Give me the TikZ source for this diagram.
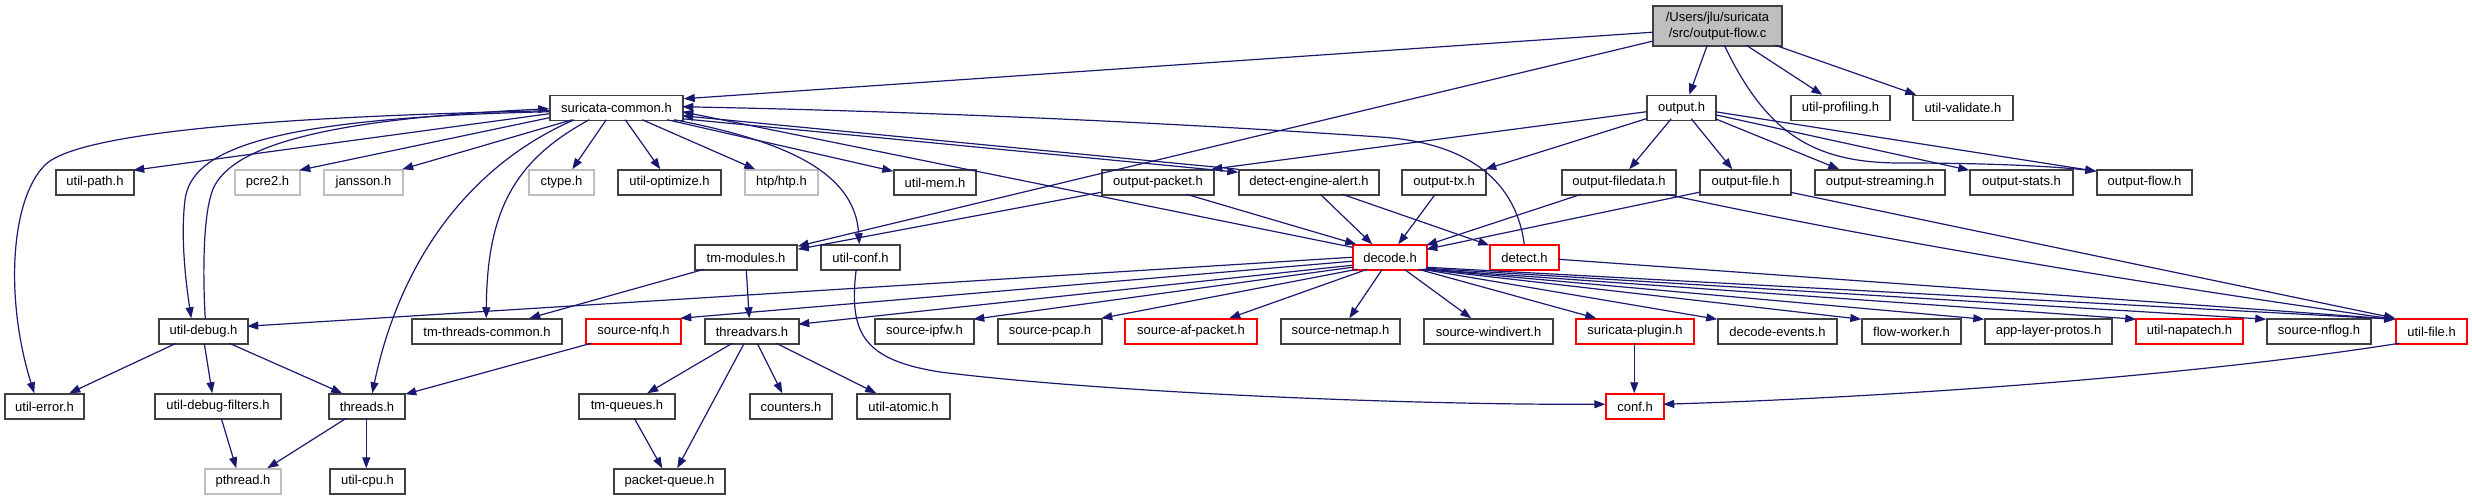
\documentclass[tikz,border=0pt]{standalone}
\usepackage{fontspec}
\setmainfont{Liberation Sans}
\usetikzlibrary{arrows.meta,calc}
\definecolor{edgec}{HTML}{191970}
\definecolor{bord}{HTML}{404040}
\definecolor{grayb}{HTML}{BFBFBF}
\newcommand\mkbox[6]{\node[#2, minimum width={(#4-#3)*1pt}] (#1) at ({(#3+#4)/2},#5) {#6};}
\begin{document}
\begin{tikzpicture}[x=1pt,y=-1pt,
  box/.style={rectangle, draw=bord, line width=1.5pt, inner sep=0pt, minimum height=25pt, fill=white, font=\fontsize{13}{15}\selectfont},
  gbox/.style={box, draw=grayb},
  rbox/.style={box, draw=red},
  rootbox/.style={box, fill=grayb, minimum height=40pt, align=center, font=\fontsize{13}{16}\selectfont},
  edge/.style={draw=edgec, line width=1.2pt, -{Triangle[length=11pt,width=8pt]}}]
\useasboundingbox (0,0) rectangle (2472,500);
% nodes
\mkbox{root}{rootbox}{1653}{1782}{26}{/Users/jlu/suricata\\/src/output-flow.c}
\mkbox{outh}{box}{1647}{1716}{108}{output.h}
\mkbox{prof}{box}{1791}{1890}{108}{util-profiling.h}
\mkbox{valid}{box}{1913}{2013}{108}{util-validate.h}
\mkbox{sc}{box}{550}{683}{108}{suricata-common.h}
% row C
\mkbox{utilpath}{box}{56}{134}{182.5}{util-path.h}
\mkbox{pcre}{gbox}{235}{300}{182.5}{pcre2.h}
\mkbox{jansson}{gbox}{324}{403}{182.5}{jansson.h}
\mkbox{ctype}{gbox}{529}{594}{182.5}{ctype.h}
\mkbox{optimize}{box}{618}{721}{182.5}{util-optimize.h}
\mkbox{htp}{gbox}{745}{818}{182.5}{htp/htp.h}
\mkbox{mem}{box}{894}{976}{182.5}{util-mem.h}
\mkbox{opacket}{box}{1102}{1214}{182.5}{output-packet.h}
\mkbox{dea}{box}{1239}{1379}{182.5}{detect-engine-alert.h}
\mkbox{otx}{box}{1402}{1486}{182.5}{output-tx.h}
\mkbox{ofiledata}{box}{1562}{1676}{182.5}{output-filedata.h}
\mkbox{ofile}{box}{1700}{1791}{182.5}{output-file.h}
\mkbox{ostream}{box}{1815}{1945}{182.5}{output-streaming.h}
\mkbox{ostats}{box}{1970}{2073}{182.5}{output-stats.h}
\mkbox{oflow}{box}{2097}{2192}{182.5}{output-flow.h}
% row D
\mkbox{tmmod}{box}{695}{797}{257.5}{tm-modules.h}
\mkbox{uconf}{box}{821}{900}{257.5}{util-conf.h}
\mkbox{decode}{rbox}{1353}{1427}{257.5}{decode.h}
\mkbox{detect}{rbox}{1490}{1559}{257.5}{detect.h}
% row E
\mkbox{udebug}{box}{159}{248}{331.5}{util-debug.h}
\mkbox{tmtc}{box}{412}{562}{331.5}{tm-threads-common.h}
\mkbox{nfq}{rbox}{586}{681}{331.5}{source-nfq.h}
\mkbox{tv}{box}{705}{799}{331.5}{threadvars.h}
\mkbox{ipfw}{box}{875}{974}{331.5}{source-ipfw.h}
\mkbox{pcap}{box}{998}{1102}{331.5}{source-pcap.h}
\mkbox{afp}{rbox}{1125}{1257}{331.5}{source-af-packet.h}
\mkbox{netmap}{box}{1281}{1400}{331.5}{source-netmap.h}
\mkbox{windivert}{box}{1424}{1553}{331.5}{source-windivert.h}
\mkbox{plugin}{rbox}{1576}{1694}{331.5}{suricata-plugin.h}
\mkbox{devents}{box}{1718}{1837}{331.5}{decode-events.h}
\mkbox{fw}{box}{1862}{1961}{331.5}{flow-worker.h}
\mkbox{alp}{box}{1985}{2112}{331.5}{app-layer-protos.h}
\mkbox{napatech}{rbox}{2136}{2243}{331.5}{util-napatech.h}
\mkbox{nflog}{box}{2267}{2371}{331.5}{source-nflog.h}
\mkbox{ufile}{rbox}{2396}{2467}{331.5}{util-file.h}
% row F
\mkbox{uerror}{box}{5}{84}{406.5}{util-error.h}
\mkbox{udf}{box}{155}{281}{406.5}{util-debug-filters.h}
\mkbox{threads}{box}{329}{405}{406.5}{threads.h}
\mkbox{tmq}{box}{579}{675}{406.5}{tm-queues.h}
\mkbox{counters}{box}{750}{832}{406.5}{counters.h}
\mkbox{atomic}{box}{857}{950}{406.5}{util-atomic.h}
\mkbox{conf}{rbox}{1606}{1664}{406.5}{conf.h}
% row G
\mkbox{pthread}{gbox}{205}{281}{481.5}{pthread.h}
\mkbox{cpu}{box}{330}{405}{481.5}{util-cpu.h}
\mkbox{pq}{box}{614}{725}{481.5}{packet-queue.h}
% waypoints
\coordinate (w1) at (1900,163);
\coordinate (c1) at (45,165);
\coordinate (c2) at (185,200);
\coordinate (c3) at (215,185);
\coordinate (c4) at (1380,137);
\coordinate (c5) at (940,372);
% root edges
\draw[edge] ($(root.north west)+(0,27)$) -- ($(sc.north east)+(0,4)$);
\draw[edge] ($(root.north west)+(0,36)$) -- ($(tmmod.north east)+(0,2)$);
\draw[edge] ($(root.north west)+(55,40)$) -- ($(outh.north west)+(43,0)$);
\draw[edge] ($(root.north west)+(94,40)$) -- ($(prof.north west)+(32,0)$);
\draw[edge] ($(root.north west)+(123,40)$) -- ($(valid.north west)+(4,0)$);
\draw[edge] ($(root.north west)+(72,40)$) .. controls (1765,130) and (1810,163) .. (w1) .. controls (2000,163) and (2060,167) .. ($(oflow.north west)+(0,2)$);
% output.h edges
\draw[edge] ($(outh.north west)+(0,17)$) -- ($(opacket.north west)+(110,0)$);
\draw[edge] ($(outh.north west)+(0,24)$) -- ($(otx.north west)+(84,0)$);
\draw[edge] ($(outh.north west)+(25,24)$) -- ($(ofiledata.north west)+(68,0)$);
\draw[edge] ($(outh.north west)+(45,24)$) -- ($(ofile.north west)+(33,0)$);
\draw[edge] ($(outh.north west)+(69,24)$) -- ($(ostream.north west)+(25,0)$);
\draw[edge] ($(outh.north west)+(69,20)$) -- ($(ostats.north west)+(0,1)$);
\draw[edge] ($(outh.north west)+(69,17)$) -- ($(oflow.north west)+(0,2)$);
% suricata-common edges
\draw[edge] ($(sc.north west)+(0,19)$) -- ($(utilpath.north west)+(78,1)$);
\draw[edge] ($(sc.north west)+(0,23)$) -- ($(pcre.north west)+(65,1)$);
\draw[edge] ($(sc.north west)+(23,25)$) -- ($(jansson.north west)+(79,0)$);
\draw[edge] ($(sc.north west)+(57,25)$) -- ($(ctype.north west)+(44,0)$);
\draw[edge] ($(sc.north west)+(76,25)$) -- ($(optimize.north west)+(43,0)$);
\draw[edge] ($(sc.north west)+(93,25)$) -- ($(htp.north west)+(11,0)$);
\draw[edge] ($(sc.north west)+(118,25)$) -- ($(mem.north west)+(0,2)$);
\draw[edge] ($(sc.north west)+(133,24)$) -- ($(dea.north west)+(0,3)$);
\draw[edge] ($(dea.north west)+(0,0)$) -- ($(sc.north west)+(133,21)$);
\draw[edge] ($(sc.north west)+(0,16)$) .. controls (200,118) and (70,140) .. (c1) .. controls (10,200) and (5,300) .. ($(uerror.north west)+(30,0)$);
\draw[edge] ($(sc.north west)+(0,17)$) .. controls (260,118) and (191,152) .. (c2) .. controls (180,240) and (187,290) .. ($(udebug.north west)+(33,0)$);
\draw[edge] ($(udebug.north west)+(47,0)$) .. controls (203,280) and (202,208) .. (c3) .. controls (240,140) and (350,118) .. ($(sc.north west)+(0,14)$);
\draw[edge] ($(sc.north west)+(25,25)$) .. controls (470,165) and (400,260) .. ($(threads.north west)+(44,0)$);
\draw[edge] ($(sc.north west)+(40,25)$) .. controls (515,160) and (487,210) .. ($(tmtc.north west)+(75,0)$);
\draw[edge] ($(sc.north west)+(125,25)$) .. controls (780,140) and (855,170) .. ($(uconf.north west)+(39,0)$);
\draw[edge] ($(detect.north west)+(35,0)$) .. controls (1515,175) and (1460,142) .. (c4) .. controls (1100,118) and (850,110) .. ($(sc.north west)+(133,12)$);
\draw[edge] ($(decode.north west)+(0,3)$) -- ($(sc.north west)+(133,17)$);
% row C edges
\draw[edge] ($(opacket.north west)+(0,23)$) -- ($(tmmod.north east)+(0,5)$);
\draw[edge] ($(opacket.north west)+(85,25)$) -- ($(decode.north west)+(4,0)$);
\draw[edge] ($(dea.north west)+(82,25)$) -- ($(decode.north west)+(20,0)$);
\draw[edge] ($(dea.north west)+(104,25)$) -- ($(detect.north west)+(0,1)$);
\draw[edge] ($(otx.north west)+(34,25)$) -- ($(decode.north west)+(46,0)$);
\draw[edge] ($(ofiledata.north west)+(20,25)$) -- ($(decode.north west)+(74,1)$);
\draw[edge] ($(ofiledata.north west)+(105,25)$) .. controls (1900,245) and (2200,292) .. ($(ufile.north west)+(0,1)$);
\draw[edge] ($(ofile.north west)+(0,23)$) -- ($(decode.north west)+(74,5)$);
\draw[edge] ($(ofile.north west)+(91,23)$) -- ($(ufile.north west)+(0,0)$);
\draw[edge] ($(detect.north west)+(69,15)$) -- ($(ufile.north west)+(0,1)$);
% decode edges
\draw[edge] ($(decode.north west)+(0,13)$) -- ($(udebug.north west)+(89,8)$);
\draw[edge] ($(decode.north west)+(0,17)$) -- ($(nfq.north west)+(95,0)$);
\draw[edge] ($(decode.north west)+(0,21)$) -- ($(tv.north west)+(94,6)$);
\draw[edge] ($(decode.north west)+(0,23)$) -- ($(ipfw.north west)+(99,1)$);
\draw[edge] ($(decode.north west)+(5,25)$) -- ($(pcap.north west)+(104,0)$);
\draw[edge] ($(decode.north west)+(15,25)$) -- ($(afp.north west)+(105,0)$);
\draw[edge] ($(decode.north west)+(30,25)$) -- ($(netmap.north west)+(69,0)$);
\draw[edge] ($(decode.north west)+(52,25)$) -- ($(windivert.north west)+(48,0)$);
\draw[edge] ($(decode.north west)+(66,25)$) -- ($(plugin.north west)+(21,0)$);
\draw[edge] ($(decode.north west)+(70,25)$) -- ($(devents.north west)+(0,1)$);
\draw[edge] ($(decode.north west)+(72,25)$) -- ($(fw.north west)+(0,1)$);
\draw[edge] ($(decode.north west)+(73,25)$) -- ($(alp.north west)+(0,1)$);
\draw[edge] ($(decode.north west)+(74,25)$) -- ($(napatech.north west)+(1,1)$);
\draw[edge] ($(decode.north west)+(74,24)$) -- ($(nflog.north west)+(0,1)$);
\draw[edge] ($(decode.north west)+(74,23)$) -- ($(ufile.north west)+(0,1)$);
% conf edges
\draw[edge] ($(plugin.north west)+(59,25)$) -- ($(conf.north west)+(29,0)$);
\draw[edge] ($(ufile.north west)+(4,25)$) .. controls (2200,375) and (1900,397) .. ($(conf.north west)+(58,11)$);
\draw[edge] ($(uconf.north west)+(36,25)$) .. controls (848,335) and (865,360) .. (c5) .. controls (1100,392) and (1400,405) .. ($(conf.north west)+(0,11)$);
% lower edges
\draw[edge] ($(tmmod.north west)+(10,25)$) -- ($(tmtc.north west)+(118,0)$);
\draw[edge] ($(tmmod.north west)+(52,25)$) -- ($(tv.north west)+(45,0)$);
\draw[edge] ($(tv.north west)+(28,25)$) -- ($(tmq.north west)+(69,0)$);
\draw[edge] ($(tv.north west)+(40,25)$) -- ($(pq.north west)+(64,0)$);
\draw[edge] ($(tv.north west)+(53,25)$) -- ($(counters.north west)+(33,0)$);
\draw[edge] ($(tv.north west)+(72,25)$) -- ($(atomic.north west)+(20,0)$);
\draw[edge] ($(tmq.north west)+(56,25)$) -- ($(pq.north west)+(49,0)$);
\draw[edge] ($(nfq.north west)+(6,25)$) -- ($(threads.north west)+(77,1)$);
\draw[edge] ($(udebug.north west)+(18,25)$) -- ($(uerror.north west)+(65,0)$);
\draw[edge] ($(udebug.north west)+(46,25)$) -- ($(udf.north west)+(58,0)$);
\draw[edge] ($(udebug.north west)+(71,25)$) -- ($(threads.north west)+(14,0)$);
\draw[edge] ($(udf.north west)+(67,25)$) -- ($(pthread.north west)+(32,0)$);
\draw[edge] ($(threads.north west)+(18,25)$) -- ($(pthread.north west)+(63,0)$);
\draw[edge] ($(threads.north west)+(38,25)$) -- ($(cpu.north west)+(37,0)$);
\end{tikzpicture}
\end{document}
